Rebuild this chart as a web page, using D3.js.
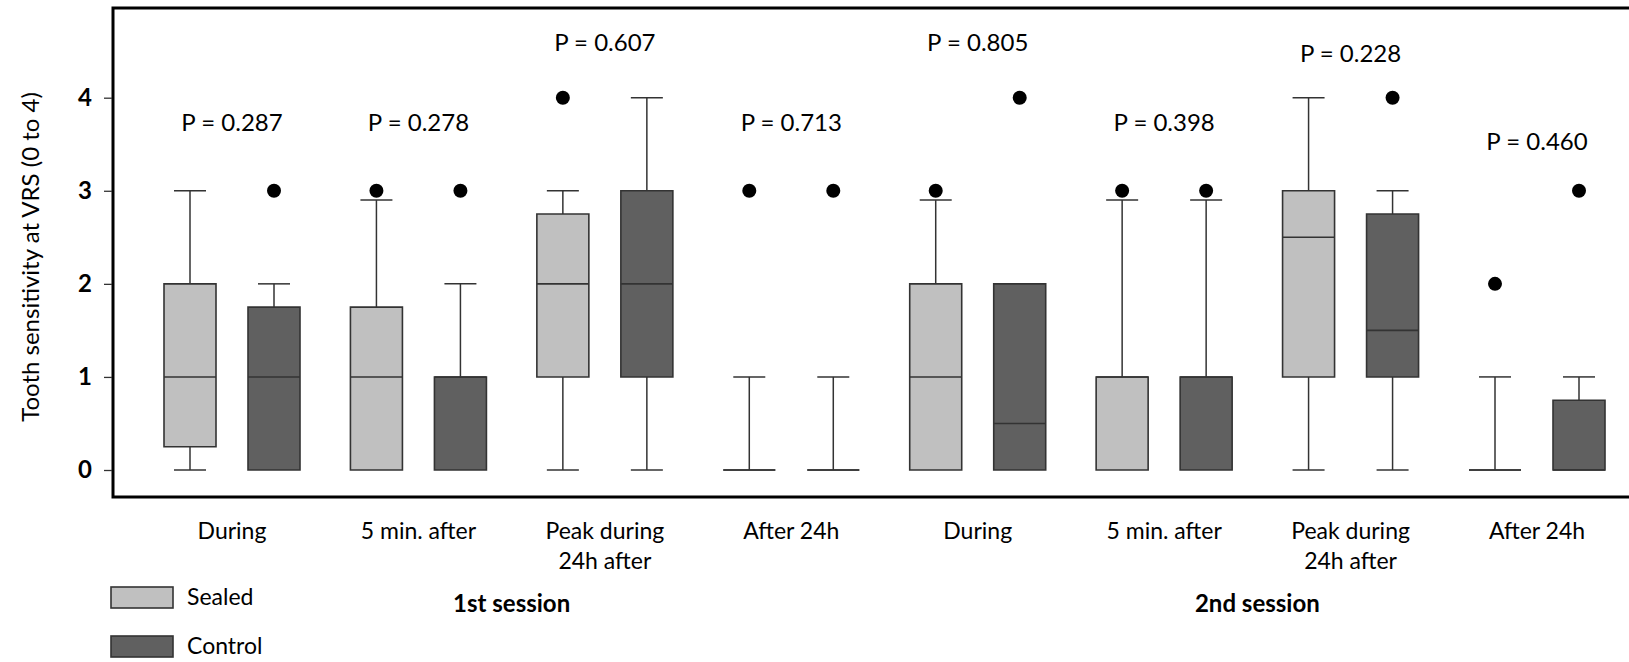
<!DOCTYPE html>
<meta charset="utf-8">
<style>
body{ margin:0; background:#fff; }
text{ font-family: Lato, "Open Sans", sans-serif; fill:#000; }
.tick line{ stroke:#333; stroke-width:1.3px; }
.tick text{ font-weight:bold; font-size:24px; }
.box{ stroke:#333; stroke-width:1.6px; }
.whisk{ stroke:#333; stroke-width:1.5px; }
</style>
<body>
<script src="https://d3js.org/d3.v7.min.js"></script>
<script>

var categories = ["During","5 min. after","Peak during\n24h after","After 24h",
                  "During","5 min. after","Peak during\n24h after","After 24h"];
var sessions = ["1st session","2nd session"];
var groups = ["Sealed","Control"];
// [lower whisker, q1, median, q3, upper whisker]
var sealedStats = [[0,0.25,1,2,3],[0,0,1,1.75,2.9],[0,1,2,2.75,3],[0,0,0,0,1],
                   [0,0,1,2,2.9],[0,0,1,1,2.9],[0,1,2.5,3,4],[0,0,0,0,1]];
var controlStats = [[0,0,1,1.75,2],[0,0,1,1,2],[0,1,2,3,4],[0,0,0,0,1],
                    [0,0,0.5,2,2],[0,0,1,1,2.9],[0,1,1.5,2.75,3],[0,0,0,0.75,1]];
var sealedOutliers = [[],[3],[4],[3],[3],[3],[],[2]];
var controlOutliers = [[3],[3],[],[3],[4],[3],[4],[3]];
var pValues = ["0.287","0.278","0.607","0.713","0.805","0.398","0.228","0.460"];
var pLabelY = [3.645,3.645,4.505,3.645,4.505,3.645,4.38,3.438];
var yTicks = [0,1,2,3,4];

var color = {Sealed:"#c0c0c0", Control:"#606060"};
var W = 1629, H = 662;
var svg = d3.select("body").append("svg").attr("width", W).attr("height", H);

var frameLeft = 113, frameTop = 8, frameBottom = 497;
var y = d3.scaleLinear().domain([0,4]).range([470, 97.7]);
var x = d3.scalePoint().domain(d3.range(categories.length)).range([232, 1537]);
var sub = d3.scalePoint().domain(groups).range([-42, 42]);
var boxW = 52, capW = 32;

// frame (right side runs off the picture)
svg.append("path")
  .attr("d", "M" + (W + 10) + "," + frameTop + "H" + frameLeft + "V" + frameBottom + "H" + (W + 10))
  .attr("fill", "none").attr("stroke", "#000").attr("stroke-width", 3);

svg.append("g").attr("transform", "translate(" + (frameLeft - 1) + ",0)")
  .call(d3.axisLeft(y).tickValues(yTicks).tickSize(8).tickPadding(12).tickFormat(d3.format("d")))
  .call(g => g.select(".domain").remove());

svg.append("text")
  .attr("transform", "translate(39," + 257 + ") rotate(-90)")
  .attr("text-anchor", "middle").attr("font-size", 24)
  .text("Tooth sensitivity at VRS (0 to 4)");

var boxes = [];
categories.forEach(function(c, i){
  boxes.push({i:i, group:"Sealed", s:sealedStats[i], out:sealedOutliers[i]});
  boxes.push({i:i, group:"Control", s:controlStats[i], out:controlOutliers[i]});
});

var bg = svg.selectAll(".bx").data(boxes).enter().append("g")
  .attr("class","bx")
  .attr("transform", d => "translate(" + (x(d.i) + sub(d.group)) + ",0)");

// whiskers
bg.each(function(d){
  var g = d3.select(this), s = d.s;
  if (s[4] > s[3]) {
    g.append("line").attr("class","whisk").attr("x1",0).attr("x2",0).attr("y1",y(s[3])).attr("y2",y(s[4]));
    g.append("line").attr("class","whisk").attr("x1",-capW/2).attr("x2",capW/2).attr("y1",y(s[4])).attr("y2",y(s[4]));
  }
  if (s[0] < s[1]) {
    g.append("line").attr("class","whisk").attr("x1",0).attr("x2",0).attr("y1",y(s[1])).attr("y2",y(s[0]));
    g.append("line").attr("class","whisk").attr("x1",-capW/2).attr("x2",capW/2).attr("y1",y(s[0])).attr("y2",y(s[0]));
  }
});

// boxes
bg.append("path").attr("class","box")
  .attr("d", d => "M" + (-boxW/2) + "," + y(d.s[3]) + "H" + (boxW/2) + "V" + y(d.s[1]) + "H" + (-boxW/2) + "Z")
  .attr("fill", d => color[d.group]);
bg.append("line").attr("class","box")
  .attr("x1", -boxW/2).attr("x2", boxW/2)
  .attr("y1", d => y(d.s[2])).attr("y2", d => y(d.s[2]));

// outliers
bg.selectAll("circle").data(d => d.out).enter().append("circle")
  .attr("cx", 0).attr("cy", v => y(v)).attr("r", 7).attr("fill", "#000");

// p values
svg.selectAll(".pval").data(pValues).enter().append("text")
  .attr("class","pval").attr("text-anchor","middle").attr("font-size",24)
  .attr("x", (d,i) => x(i)).attr("y", (d,i) => y(pLabelY[i]))
  .text(d => "P = " + d);

// category labels
var cl = svg.selectAll(".cat").data(categories).enter().append("text")
  .attr("class","cat").attr("text-anchor","middle").attr("font-size",23)
  .attr("x", (d,i) => x(i)).attr("y", 539);
cl.selectAll("tspan").data(d => d.split("\n")).enter().append("tspan")
  .attr("x", function(){ return this.parentNode.getAttribute("x"); })
  .attr("dy", (d,j) => j ? 30 : 0)
  .text(d => d);

// session labels
sessions.forEach(function(s, k){
  var mid = (x(k*4) + x(k*4 + 3)) / 2;
  svg.append("text").attr("x", mid).attr("y", 612).attr("text-anchor","middle")
    .attr("font-size", 24).attr("font-weight","bold").text(s);
});

// legend
var lg = svg.selectAll(".leg").data(groups).enter().append("g")
  .attr("class","leg").attr("transform", (d,i) => "translate(111," + (587 + i*49) + ")");
lg.append("rect").attr("width", 62).attr("height", 21)
  .attr("fill", d => color[d]).attr("stroke", "#333").attr("stroke-width", 1.6);
lg.append("text").attr("x", 76).attr("y", 18).attr("font-size", 23).text(d => d);

</script>
</body>
</html>
